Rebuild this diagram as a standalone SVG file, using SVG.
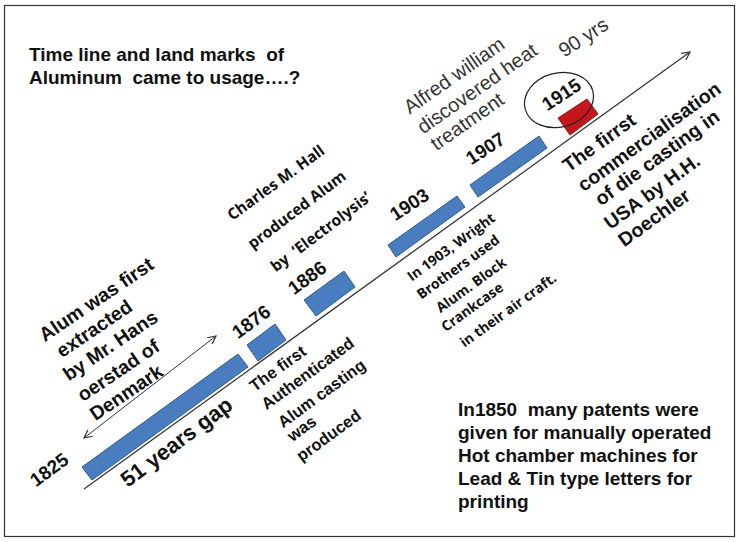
<svg xmlns="http://www.w3.org/2000/svg" width="740" height="542" viewBox="0 0 740 542">
<defs>
<marker id="a" viewBox="0 0 10 10" refX="9" refY="5" markerWidth="10" markerHeight="10" orient="auto-start-reverse" markerUnits="userSpaceOnUse"><path d="M1 1L9 5L1 9" fill="none" stroke="#333" stroke-width="1.2"/></marker>
</defs>
<style>
text{font-family:"Liberation Sans",Arial,sans-serif;fill:#111;text-anchor:middle;white-space:pre}
.b{font-weight:bold;font-size:19.500px}
.y{font-weight:bold;font-size:19px}
.n{font-size:20px;fill:#333}
.c{font-family:"Open Sans","Liberation Sans",sans-serif;font-weight:bold;font-size:15.500px}
.s{font-family:"Open Sans","Liberation Sans",sans-serif;font-weight:bold;font-size:14px}
.d{font-weight:bold;font-size:16.500px}
.l{text-anchor:start;font-weight:bold;font-size:19px}
.blue{fill:#4a7dc0;stroke:#2f5d8c;stroke-width:1}
</style>
<rect x="4.500" y="5.500" width="730" height="531" fill="#fff" stroke="#333" stroke-width="1.200"/>
<g id="connectors" fill="none" stroke="#333">
<path d="M84 489L690 52" stroke-width="1.300" marker-end="url(#a)"/>
<path d="M84 438L216 336" stroke-width="1" marker-start="url(#a)" marker-end="url(#a)"/>
</g>
<g id="title"><text class="l" x="29" y="61">Time line and land marks  of</text><text class="l" x="29" y="84">Aluminum  came to usage….?</text></g>
<g id="n1825"><polygon class="blue" points="82,467 238,354 248,367 92,480"/><text class="y" transform="translate(53,475) rotate(-36)">1825</text></g>
<g id="n1876"><polygon class="blue" points="247,345 275,324 286,340 258,361"/><text class="y" transform="translate(255,327) rotate(-36)">1876</text></g>
<g id="n1886"><polygon class="blue" points="304,300 344,271 355,287 316,316"/><text class="y" transform="translate(311,283) rotate(-36)">1886</text></g>
<g id="n1903"><polygon class="blue" points="388,245 457,196 465,207 396,257"/><text class="y" transform="translate(413,210) rotate(-33)">1903</text></g>
<g id="n1907"><polygon class="blue" points="470,185 539,136 547,148 478,197"/><text class="y" transform="translate(489,154) rotate(-33)">1907</text></g>
<g id="n1915"><polygon points="558,118 587,99 598,114 570,135" fill="#c5161d" stroke="#8f1a1a"/><ellipse cx="559" cy="100" rx="35" ry="27" fill="none" stroke="#222" stroke-width="1.200" transform="rotate(-15 559 100)"/><text class="y" transform="translate(565,100) rotate(-33)">1915</text></g>
<g id="extracted">
<text class="b" transform="translate(100,305) rotate(-34)">Alum was first</text>
<text class="b" transform="translate(98,334) rotate(-34)">extracted</text>
<text class="b" transform="translate(114,351) rotate(-34)">by Mr. Hans</text>
<text class="b" transform="translate(122,376) rotate(-34)">oerstad of</text>
<text class="b" transform="translate(130,398) rotate(-34)">Denmark</text>
</g>
<g id="gap"><text class="b" style="font-size:22px" transform="translate(181,448) rotate(-37)">51 years gap</text></g>
<g id="casting">
<text class="d" transform="translate(281,373) rotate(-36)">The first</text>
<text class="d" transform="translate(311,378) rotate(-36)">Authenticated</text>
<text class="d" transform="translate(325,398) rotate(-36)">Alum casting</text>
<text class="d" transform="translate(305,433) rotate(-36)">was</text>
<text class="d" transform="translate(332,440) rotate(-36)">produced</text>
</g>
<g id="hall">
<text class="c" transform="translate(279,187) rotate(-36)">Charles M. Hall</text>
<text class="c" transform="translate(300,214) rotate(-37)">produced Alum</text>
<text class="c" transform="translate(324,236) rotate(-37)">by  ‘Electrolysis’</text>
</g>
<g id="alfred">
<text class="n" transform="translate(458,81) rotate(-35)">Alfred william</text>
<text class="n" transform="translate(481,94) rotate(-35)">discovered heat</text>
<text class="n" transform="translate(471,127) rotate(-35)">treatment</text>
<text class="n" transform="translate(587,43) rotate(-33)">90 yrs</text>
</g>
<g id="wright">
<text class="s" transform="translate(454,251) rotate(-36)">In 1903, Wright</text>
<text class="s" transform="translate(461,271) rotate(-36)">Brothers used</text>
<text class="s" transform="translate(474,289) rotate(-36)">Alum. Block</text>
<text class="s" transform="translate(475,311) rotate(-36)">Crankcase</text>
<text class="s" transform="translate(511,314) rotate(-36)">in their air craft.</text>
</g>
<g id="doechler">
<text class="b" transform="translate(603,148) rotate(-36)">The firrst</text>
<text class="b" transform="translate(653,142) rotate(-36)">commercialisation</text>
<text class="b" transform="translate(661,163) rotate(-36)">of die casting in</text>
<text class="b" transform="translate(656,197) rotate(-36)">USA by H.H.</text>
<text class="b" transform="translate(658,223) rotate(-36)">Doechler</text>
</g>
<g id="patents">
<text class="l" x="458" y="416">In1850  many patents were</text>
<text class="l" x="458" y="439">given for manually operated</text>
<text class="l" x="458" y="462">Hot chamber machines for</text>
<text class="l" x="458" y="485">Lead &amp; Tin type letters for</text>
<text class="l" x="458" y="508">printing</text>
</g>
</svg>
